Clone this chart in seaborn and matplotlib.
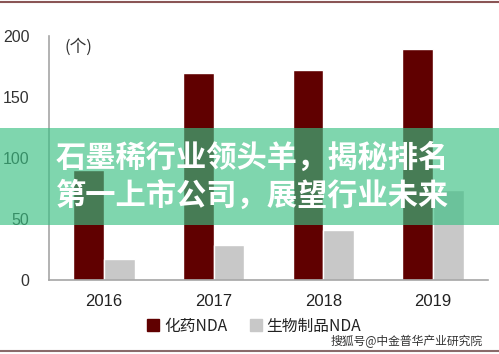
import matplotlib
matplotlib.use("Agg")
import matplotlib.pyplot as plt
import seaborn as sns
import pandas as pd
from matplotlib.patches import Rectangle
from matplotlib.lines import Line2D

years = ["2016", "2017", "2018", "2019"]
chem_nda = [90, 170, 172, 189]
bio_nda = [17, 29, 41, 74]
series_names = ["化药NDA", "生物制品NDA"]
series_colors = ["#600000", "#c8c8c8"]
y_ticks = [0, 50, 100, 150, 200]
unit_label = "(个)"
banner_lines = ["石墨稀行业领头羊，揭秘排名", "第一上市公司，展望行业未来"]
watermark = "搜狐号@中金普华产业研究院"

df = pd.DataFrame({
    "year": years * 2,
    "value": chem_nda + bio_nda,
    "series": [series_names[0]] * 4 + [series_names[1]] * 4,
})

sns.set_theme(style="white")
plt.rcParams["font.family"] = ["Liberation Sans", "Noto Sans CJK SC", "DejaVu Sans"]

W, H = 499, 354
fig = plt.figure(figsize=(W / 100, H / 100), dpi=100)
fig.patch.set_facecolor("white")
ax = fig.add_axes([49 / W, 1 - 280 / H, (488 - 49) / W, (280 - 36) / H])

sns.barplot(data=df, x="year", y="value", hue="series", palette=series_colors,
            width=0.56, ax=ax, legend=False, saturation=1)

ax.set_xlim(-0.5, 3.5)
ax.set_ylim(0, 200)
ax.set_yticks(y_ticks)
ax.set_xlabel("")
ax.set_ylabel("")
for s in ["top", "right"]:
    ax.spines[s].set_visible(False)
for s in ["left", "bottom"]:
    ax.spines[s].set_color("#a6a6a6")
    ax.spines[s].set_linewidth(1.2)
ax.tick_params(axis="y", length=0, labelsize=11.5, pad=14, colors="#333333")
ax.tick_params(axis="x", which="major", length=0, labelsize=12, pad=10, colors="#222222")
ax.set_xticks([-0.5, 0.5, 1.5, 2.5, 3.5], minor=True)
ax.tick_params(axis="x", which="minor", length=5, width=1.2, color="#a6a6a6", direction="out")
ax.grid(False)

ax.text(16 / 439, 0.99, unit_label, transform=ax.transAxes, fontsize=12,
        va="top", ha="left", color="#333333",
        family=["Noto Sans CJK SC", "DejaVu Sans"])

handles = [Line2D([0], [0], marker="s", linestyle="none", markersize=8,
                  markerfacecolor=c, markeredgecolor=c) for c in series_colors]
leg = fig.legend(handles, series_names, loc="center", bbox_to_anchor=(254 / W, 1 - 326 / H),
                 ncol=2, frameon=False, handlelength=0.8, handletextpad=0.3,
                 columnspacing=1.4, prop={"family": ["Noto Sans CJK SC", "DejaVu Sans"], "size": 11.3})
for t in leg.get_texts():
    t.set_color("#222222")

fig.text(407 / W, 1 - 341 / H, watermark, ha="center", va="center", fontsize=8.5,
         color="#333333", family=["Noto Sans CJK SC", "DejaVu Sans"])

# frame lines top and bottom
fig.add_artist(Line2D([0, 1], [1 - 2 / H, 1 - 2 / H], color="#8a5555", linewidth=1.5))
fig.add_artist(Line2D([0, 1], [1 - 351 / H, 1 - 351 / H], color="#8a6a6a", linewidth=1.5))

# translucent banner
fig.add_artist(Rectangle((0, 1 - 225 / H), 1, 97 / H, transform=fig.transFigure,
                         facecolor="#3ac083", alpha=0.65, edgecolor="none", zorder=5))
fig.text(56 / W, 1 - 158 / H, banner_lines[0], ha="left", va="center", fontsize=21.8,
         color="white", fontweight="black", zorder=6,
         family=["Noto Sans CJK SC", "DejaVu Sans"])
fig.text(56 / W, 1 - 196 / H, banner_lines[1], ha="left", va="center", fontsize=21.8,
         color="white", fontweight="black", zorder=6,
         family=["Noto Sans CJK SC", "DejaVu Sans"])

fig.savefig("out.png", dpi=100)
